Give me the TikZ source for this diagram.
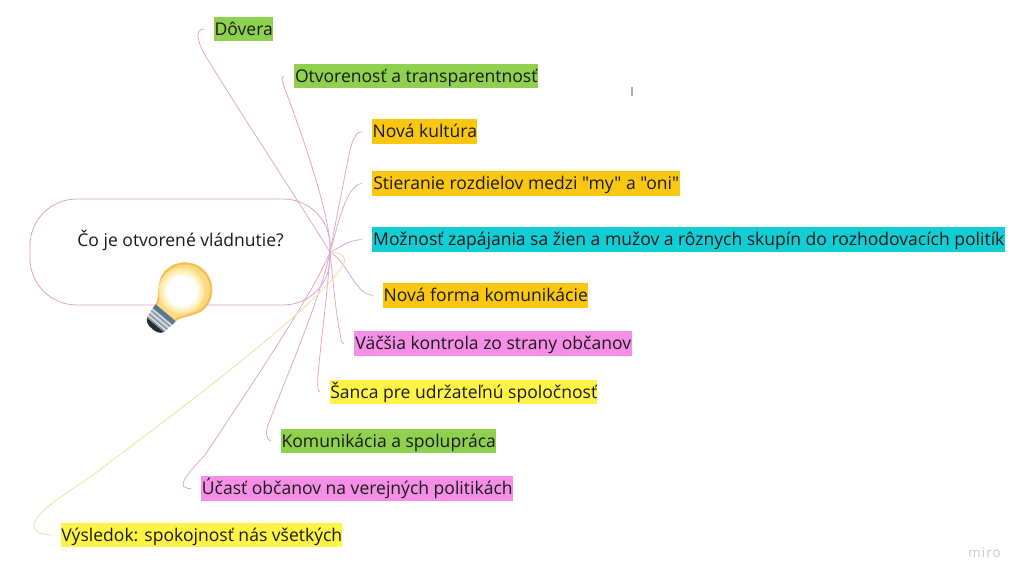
\documentclass[tikz,border=0pt]{standalone}
\usepackage{fontspec}
\setmainfont{Open Sans}[Ligatures=TeXOff]
\definecolor{lpink}{HTML}{DDA3C8}
\definecolor{lyel}{HTML}{EFE4B0}
\definecolor{cgreen}{HTML}{8FD14F}
\definecolor{corange}{HTML}{FAC710}
\definecolor{cteal}{HTML}{12CDD4}
\definecolor{cmag}{HTML}{F58FE6}
\definecolor{cyel}{HTML}{FEF445}
\definecolor{ink}{HTML}{1A1A1A}
\pgfdeclareradialshading{glow}{\pgfpoint{0bp}{0bp}}{rgb(0bp)=(1,1,1);rgb(14bp)=(1,1,1);rgb(19bp)=(1,.94,.72);rgb(25bp)=(.99,.85,.51);rgb(50bp)=(.99,.85,.51)}
\tikzset{
 leaf/.style={anchor=west,inner xsep=0pt,inner ysep=0pt,text=ink,font=\fontsize{13.15pt}{15pt}\selectfont,text height=14pt,text depth=4.5pt},
 link/.style={draw=lpink,line width=0.55pt,shorten >=7.5pt},
 linky/.style={draw=lyel,line width=0.7pt,shorten >=7pt},
 rootbox/.style={draw=lpink,line width=0.6pt,rounded corners=35pt,minimum width=225pt,minimum height=79.5pt,inner sep=0pt},
}
\begin{document}
\begin{tikzpicture}[x=0.75pt,y=-0.75pt]
\useasboundingbox (0,0) rectangle (1024,582);
\fill[white] (0,0) rectangle (1024,582);
\node[rootbox] (root) at (180,252) {};
\node[font=\fontsize{13.15pt}{15pt}\selectfont,text=ink,inner sep=0pt] (title) at (180.5,240) {Čo je otvorené vládnutie?};
\coordinate (hub) at (330,252);
\node[leaf,fill=cgreen,minimum width=44.25pt] (n1) at (214,29) {Dôvera};
\node[leaf,fill=cgreen,minimum width=183pt] (n2) at (294,76) {Otvorenosť a transparentnosť};
\node[leaf,fill=corange,minimum width=78.75pt] (n3) at (372,131.5) {Nová kultúra};
\node[leaf,fill=corange,minimum width=231pt] (n4) at (372,183.5) {Stieranie rozdielov medzi "my" a "oni"};
\node[leaf,fill=cteal,minimum width=474.75pt] (n5) at (372,239.5) {Možnosť zapájania sa žien a mužov a rôznych skupín do rozhodovacích politík};
\node[leaf,fill=corange,minimum width=153.75pt] (n6) at (383,295.5) {Nová forma komunikácie};
\node[leaf,fill=cmag,minimum width=208.5pt] (n7) at (354,343.5) {Väčšia kontrola zo strany občanov};
\node[leaf,fill=cyel,minimum width=200.25pt] (n8) at (330,392) {Šanca pre udržateľnú spoločnosť};
\node[leaf,fill=cgreen,minimum width=161.25pt] (n9) at (281,441) {Komunikácia a spolupráca};
\node[leaf,fill=cmag,minimum width=234pt] (n10) at (201,488.5) {Účasť občanov na verejných politikách};
\node[leaf,fill=cyel,minimum width=210pt] (n11) at (61,535) {Výsledok: spokojnosť nás všetkých};
\draw[link] (hub) .. controls (285,180) and (232,100) .. (205,55) .. controls (198,43) and (194,29) .. (n1.west);
\draw[link] (hub) .. controls (332,230) and (315,170) .. (289,100) .. controls (283,85) and (280,76) .. (n2.west);
\draw[link] (hub) .. controls (337,215) and (347,165) .. (350,150) .. controls (353,138) and (357,131.5) .. (n3.west);
\draw[link] (hub) .. controls (335,235) and (342,205) .. (350,193) .. controls (354,187) and (358,183.5) .. (n4.west);
\draw[link] (hub) .. controls (338,250) and (345,240) .. (n5.west);
\draw[link] (hub) .. controls (348,262) and (355,295) .. (n6.west);
\draw[link] (hub) .. controls (333,280) and (336,315) .. (340,333) .. controls (341,338) and (341,343.5) .. (n7.west);
\draw[link] (hub) .. controls (328,290) and (321,340) .. (318,375) .. controls (317.5,383) and (317.5,392) .. (n8.west);
\draw[link] (hub) .. controls (320,300) and (285,380) .. (268,425) .. controls (265,433) and (267,441) .. (n9.west);
\draw[link] (hub) .. controls (315,290) and (255,380) .. (205,455) .. controls (183,478) and (176,488.5) .. (n10.west);
\draw[linky] (hub) .. controls (342,252) and (350,258) .. (340,270) .. controls (310,310) and (200,395) .. (110,462) .. controls (75,490) and (34,510) .. (34,526) .. controls (34,532) and (42,535) .. (n11.west);
% light bulb
\begin{scope}[shift={(165,313.5)},rotate=-40]
 \fill[color={rgb,255:red,246;green,190;blue,85}] (-13,0) .. controls (-13,-8) and (-27.5,-18) .. (-27.5,-31) .. controls (-27.5,-46) and (-15,-58.5) .. (0,-58.5) .. controls (15,-58.5) and (27.5,-46) .. (27.5,-31) .. controls (27.5,-18) and (13,-8) .. (13,0) -- cycle;
 \fill[color={rgb,255:red,253;green,217;blue,130}] (-11,-1) .. controls (-11,-8) and (-25,-19) .. (-25,-31) .. controls (-25,-45) and (-14,-56) .. (0,-56) .. controls (14,-56) and (25,-45) .. (25,-31) .. controls (25,-19) and (11,-8) .. (11,-1) -- cycle;
 \shade[shading=glow] (-2,-28) circle (23);
 \fill[color={rgb,255:red,90;green,120;blue,145}] (-13,-1) -- (13,-1) -- (13,4) -- (-13,4) -- cycle;
 \fill[color={rgb,255:red,205;green,214;blue,220}] (-12.5,4) -- (12.5,4) -- (11,15) -- (-11,15) -- cycle;
 \fill[color={rgb,255:red,125;green,140;blue,150}] (-12.5,6) -- (12.5,6) -- (12.3,7.2) -- (-12.3,7.2) -- cycle;
 \fill[color={rgb,255:red,125;green,140;blue,150}] (-12,10) -- (12,10) -- (11.8,11.2) -- (-11.8,11.2) -- cycle;
 \fill[color={rgb,255:red,125;green,140;blue,150}] (-11.5,13.5) -- (11.5,13.5) -- (11.3,14.7) -- (-11.3,14.7) -- cycle;
 \fill[color={rgb,255:red,38;green,44;blue,50}] (-11,15) -- (11,15) .. controls (9,19) and (5,20) .. (0,20) .. controls (-5,20) and (-9,19) .. (-11,15) -- cycle;
\end{scope}
\fill[color={rgb,255:red,165;green,172;blue,176}] (631,87) rectangle (633,96);
\node[font=\fontsize{10pt}{11pt}\selectfont\addfontfeature{LetterSpace=8},text={rgb,255:red,200;green,200;blue,205},inner sep=0pt] (miro) at (984.5,553) {miro};
\end{tikzpicture}
\end{document}
